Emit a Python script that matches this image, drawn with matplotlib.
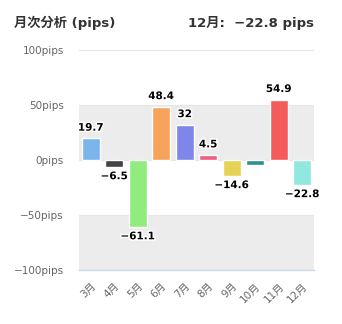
import matplotlib.pyplot as plt
import matplotlib.patheffects as pe
import numpy as np

plt.rcParams['font.family'] = ['DejaVu Sans', 'Noto Sans CJK JP']

months = ['3月', '4月', '5月', '6月', '7月', '8月', '9月', '10月', '11月', '12月']
pips = [19.7, -6.5, -61.1, 48.4, 32, 4.5, -14.6, -4.2, 54.9, -22.8]
show_label = [True, True, True, True, True, True, True, False, True, True]
colors = ['#7cb5ec', '#434348', '#90ed7d', '#f7a35c', '#8085e9',
          '#f15c80', '#e4d354', '#2b908f', '#f45b5b', '#91e8e1']
yticks = [-100, -50, 0, 50, 100]

fig = plt.figure(figsize=(3.42, 3.24), dpi=100)
ax = fig.add_axes([0.231, 0.167, 0.687, 0.679])

x = np.arange(len(months))
ax.set_xlim(-0.5, len(months) - 0.5)
ax.set_ylim(-100, 100)

# alternating plot bands
ax.axhspan(0, 50, color='#ececec', zorder=0, lw=0)
ax.axhspan(-100, -50, color='#ececec', zorder=0, lw=0)
for t in yticks[1:]:
    ax.axhline(t, color='#e6e6e6', lw=0.8, zorder=0.5)

ax.bar(x, pips, width=0.78, color=colors, edgecolor='white', linewidth=1, zorder=2)

outline = [pe.withStroke(linewidth=2.2, foreground='white')]
for xi, v, show in zip(x, pips, show_label):
    if not show:
        continue
    txt = f'{v:g}'.replace('-', '\u2212')
    if v >= 0:
        ax.annotate(txt, (xi, v), xytext=(0, 4), textcoords='offset points',
                    ha='center', va='bottom', fontsize=7.5, fontweight='bold',
                    color='black', path_effects=outline, zorder=3)
    else:
        ax.annotate(txt, (xi, v), xytext=(0, -3), textcoords='offset points',
                    ha='center', va='top', fontsize=7.5, fontweight='bold',
                    color='black', path_effects=outline, zorder=3)

ax.set_yticks(yticks)
ax.set_yticklabels([f'{t}pips'.replace('-', '\u2212') for t in yticks],
                   color='#666666', fontsize=7.5)
ax.set_xticks(x)
ax.set_xticklabels(months, rotation=45, ha='right', rotation_mode='anchor',
                   color='#666666', fontsize=7.5)
ax.tick_params(axis='both', length=0)
ax.tick_params(axis='y', pad=11)
ax.tick_params(axis='x', pad=8)
for side in ['top', 'right', 'left']:
    ax.spines[side].set_visible(False)
ax.spines['bottom'].set_color('#ccd6eb')
ax.spines['bottom'].set_linewidth(1)

fig.text(0.041, 0.93, '月次分析 (pips)', fontsize=9.5, fontweight='bold',
         color='#333333', ha='left', va='center')
fig.text(0.918, 0.93, '12月:  \u221222.8 pips', fontsize=9.5, fontweight='bold',
         color='#333333', ha='right', va='center')

fig.savefig('out.png', dpi=100, facecolor='white')
